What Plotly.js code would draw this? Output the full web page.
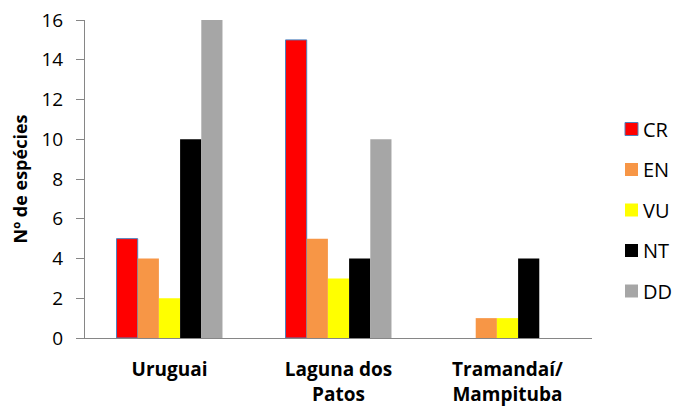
<!DOCTYPE html>
<html>
<head>
<meta charset="utf-8">
<script src="https://cdn.plot.ly/plotly-3.0.1.min.js"></script>
<style>
  html, body { margin: 0; padding: 0; background: #fff; }
  #chart { width: 675px; height: 407px; }
</style>
</head>
<body>
<div id="chart"></div>
<script>
// Regions (watersheds) on the x axis
const regions = ["Uruguai", "Laguna dos<br>Patos", "Tramandaí/<br>Mampituba"];

// Number of species per threat category in each region
const CR = [5, 15, 0];
const EN = [4, 5, 1];
const VU = [2, 3, 1];
const NT = [10, 4, 4];
const DD = [16, 10, 0];

const seriesNames = ["CR", "EN", "VU", "NT", "DD"];
const seriesValues = [CR, EN, VU, NT, DD];
const seriesColors = ["#FF0000", "#F79646", "#FFFF00", "#000000", "#A6A6A6"];
const seriesLines = ["#4F81BD", null, null, null, null];

const FONT = "'Open Sans', 'Noto Sans', sans-serif";

// plot area geometry (pixels)
const W = 675, H = 407;
const M = { l: 85, r: 83, t: 20, b: 69 };
const PW = W - M.l - M.r, PH = H - M.t - M.b;
const px2x = px => (px - M.l) / PW;
const px2y = py => (H - M.b - py) / PH;

const traces = seriesNames.map((name, i) => ({
  type: "bar",
  name: name,
  x: regions,
  y: seriesValues[i],
  showlegend: false,
  marker: {
    color: seriesColors[i],
    // outline only on bars that actually have height
    line: seriesLines[i]
      ? { color: seriesLines[i], width: seriesValues[i].map(v => (v > 0 ? 1 : 0)) }
      : { width: 0 }
  },
  hoverinfo: "x+y+name"
}));

// Legend on the right: a swatch and a label per series
const LEG_X = 625, LEG_Y0 = 129, LEG_STEP = 40.5, SW = 13;
const legendShapes = seriesNames.map((name, i) => {
  const cy = LEG_Y0 + i * LEG_STEP;
  return {
    type: "rect",
    xref: "paper", yref: "paper",
    x0: px2x(LEG_X), x1: px2x(LEG_X + SW),
    y0: px2y(cy + SW / 2), y1: px2y(cy - SW / 2),
    fillcolor: seriesColors[i],
    line: seriesLines[i] ? { color: seriesLines[i], width: 1 } : { width: 0 }
  };
});
const legendLabels = seriesNames.map((name, i) => ({
  xref: "paper", yref: "paper",
  x: px2x(LEG_X + SW + 3), y: px2y(LEG_Y0 + i * LEG_STEP),
  xanchor: "left", yanchor: "middle",
  text: name,
  showarrow: false,
  font: { family: FONT, size: 20, color: "#000000" }
}));

const layout = {
  width: W,
  height: H,
  margin: M,
  paper_bgcolor: "#ffffff",
  plot_bgcolor: "#ffffff",
  barmode: "group",
  bargap: 0.373,
  bargroupgap: 0,
  showlegend: false,
  font: { family: FONT, color: "#000000" },
  xaxis: {
    showline: true,
    linecolor: "#868686",
    linewidth: 1,
    ticks: "",
    showgrid: false,
    zeroline: false,
    ticklabelstandoff: 14,
    tickfont: { family: FONT, size: 19, weight: "bold", color: "#000000" }
  },
  yaxis: {
    range: [0, 16],
    dtick: 2,
    showline: true,
    linecolor: "#868686",
    linewidth: 1,
    ticks: "outside",
    ticklen: 8,
    tickcolor: "#868686",
    showgrid: false,
    zeroline: false,
    ticklabelstandoff: 9,
    tickfont: { family: FONT, size: 19, color: "#000000" },
    title: {
      text: "Nº de espécies",
      font: { family: FONT, size: 18, weight: "bold", color: "#000000" },
      standoff: 9
    }
  },
  shapes: legendShapes,
  annotations: legendLabels
};

Plotly.newPlot("chart", traces, layout, { displayModeBar: false, staticPlot: true });
</script>
</body>
</html>
